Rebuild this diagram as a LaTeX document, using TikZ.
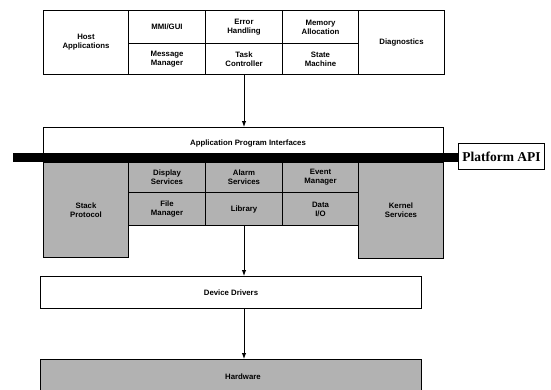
\documentclass[tikz,border=0pt]{standalone}
\usepackage{fontspec}
\setsansfont{Liberation Sans}
\setmainfont{Liberation Serif}
\usetikzlibrary{arrows.meta}
\tikzset{
  lbl/.style={font=\sffamily\bfseries\fontsize{7.8}{9.2}\selectfont},
  cell/.style={draw=black, line width=1pt, anchor=north west, inner sep=0pt,
    align=center, lbl},
  white/.style={cell, fill=white},
  shade/.style={cell, fill=black!30},
  arr/.style={line width=1pt, -{Latex[length=6pt,width=4.5pt]}},
}
\newcommand{\cellbox}[6]{%
  \node[#2, minimum width={#5-#3}, minimum height={#6-#4}] (#1) at (#3,#4)}
\begin{document}
\begin{tikzpicture}[x=1pt,y=-1pt]
\useasboundingbox (0,0) rectangle (551,389);
\clip (0,0) rectangle (551,389);
% top block
\cellbox{host}{white}{43}{10}{128}{74} {Host\\Applications};
\cellbox{mmi}{white}{128}{10}{205}{43} {MMI/GUI};
\cellbox{err}{white}{205}{10}{282}{43} {Error\\Handling};
\cellbox{mem}{white}{282}{10}{358}{43} {Memory\\Allocation};
\cellbox{msg}{white}{128}{43}{205}{74} {Message\\Manager};
\cellbox{task}{white}{205}{43}{282}{74} {Task\\Controller};
\cellbox{state}{white}{282}{43}{358}{74} {State\\Machine};
\cellbox{diag}{white}{358}{10}{444}{74} {Diagnostics};
% API
\cellbox{api}{white}{43}{127}{443}{160} {};
\node[lbl] (apitxt) at (248,143) {Application Program Interfaces};
% shaded
\cellbox{stack}{shade}{43}{162}{128}{257} {Stack\\Protocol};
\cellbox{disp}{shade}{128}{162}{205}{192} {Display\\Services};
\cellbox{alarm}{shade}{205}{162}{282}{192} {Alarm\\Services};
\cellbox{event}{shade}{282}{162}{358}{192} {Event\\Manager};
\cellbox{file}{shade}{128}{192}{205}{225} {File\\Manager};
\cellbox{lib}{shade}{205}{192}{282}{225} {Library};
\cellbox{data}{shade}{282}{192}{358}{225} {Data\\I/O};
\cellbox{kernel}{shade}{358}{162}{443}{258} {Kernel\\Services};
% platform bar
\fill[black] (13,153) rectangle (459,162);
\node[draw=black, line width=1pt, fill=white, anchor=north west, minimum width=86pt,
  minimum height=26pt, inner sep=0pt, font=\rmfamily\bfseries\fontsize{13.5}{15}\selectfont]
  (plat) at (458,143) {Platform API};
% drivers and hardware
\cellbox{drv}{white}{40}{276}{421}{308} {Device Drivers};
\cellbox{hw}{shade}{40}{359}{421}{398} {};
\node[lbl] (hwtxt) at (243,377) {Hardware};
% arrows
\draw[arr] (task.south) -- (task.south |- api.north);
\draw[arr] (lib.south) -- (lib.south |- drv.north);
\draw[arr] (drv.south -| lib.south) -- (lib.south |- hw.north);
\end{tikzpicture}
\end{document}
